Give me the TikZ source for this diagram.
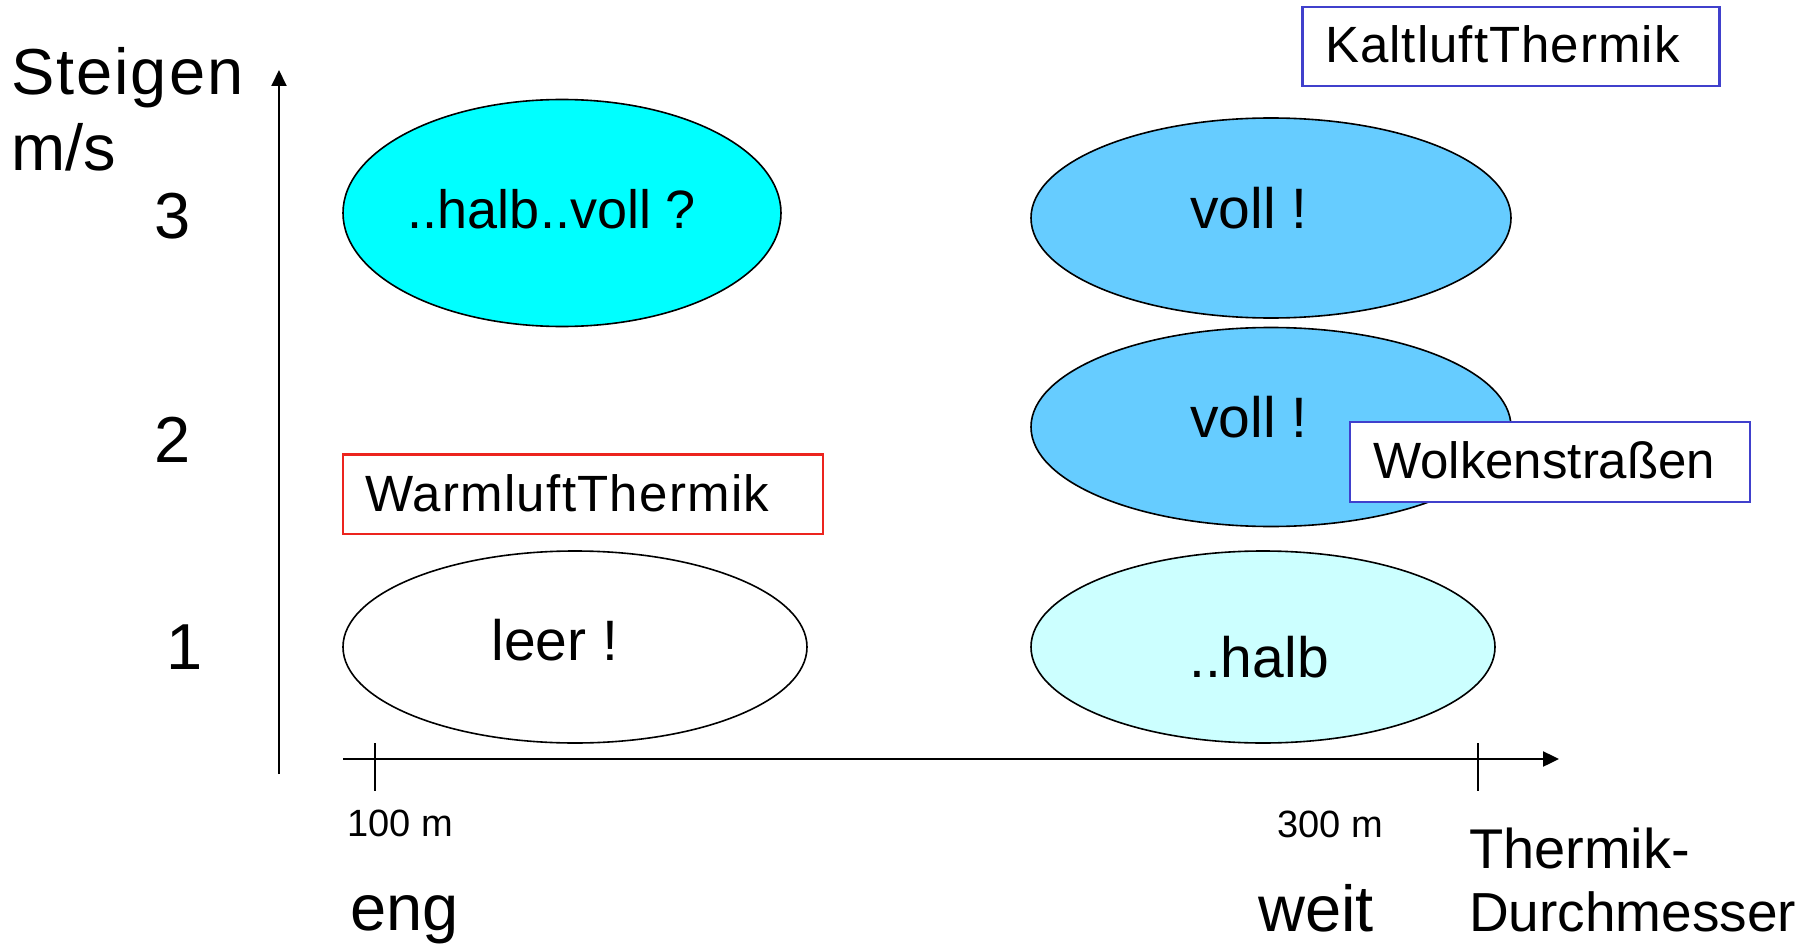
\documentclass[tikz,border=0pt]{standalone}
\usepackage{fontspec}
\setmainfont{Liberation Sans}
\usetikzlibrary{shapes.geometric,arrows.meta}
\definecolor{cyanA}{HTML}{00FFFF}
\definecolor{blueB}{HTML}{66CCFF}
\definecolor{paleE}{HTML}{CCFFFF}
\definecolor{boxblue}{RGB}{64,64,204}
\definecolor{boxred}{RGB}{236,36,30}
\newcommand{\fsz}[1]{\fontsize{#1}{#1}\selectfont}
\begin{document}
\begin{tikzpicture}[x=1pt,y=-1pt,
  blob/.style={ellipse,draw=black,line width=1.6pt,inner sep=0pt},
  labelbox/.style={draw,line width=2.2pt,fill=white,inner sep=0pt},
  axisline/.style={line width=2.4pt,-{Triangle[length=16pt,width=15pt]}},
  tickline/.style={line width=1.3pt},
  big/.style={inner sep=0pt,font=\fsz{65}},
  mid/.style={inner sep=0pt,font=\fsz{57}},
  small/.style={inner sep=0pt,font=\fsz{51}},
  tiny/.style={inner sep=0pt,font=\fsz{38}}]
\useasboundingbox (0,0) rectangle (1816,947);
% axes
\coordinate (yb) at (279,774);
\coordinate (yt) at (279,70);
\coordinate (xl) at (343,759);
\coordinate (xr) at (1559,759);
\draw[axisline,line width=2pt] (yb) -- (yt);
\draw[axisline] (xl) -- (xr);
\coordinate (t1a) at (375,743); \coordinate (t1b) at (375,791);
\coordinate (t2a) at (1478,743); \coordinate (t2b) at (1478,791);
\draw[tickline] (t1a) -- (t1b);
\draw[tickline] (t2a) -- (t2b);
% ellipses
\node[blob,fill=cyanA,minimum width=438pt,minimum height=227pt] (eA) at (562,213) {};
\node[blob,fill=blueB,minimum width=480pt,minimum height=200pt] (eB) at (1271,218) {};
\node[blob,fill=blueB,minimum width=480pt,minimum height=199pt] (eC) at (1271,427) {};
\node[blob,fill=white,minimum width=464pt,minimum height=192pt] (eD) at (575,647) {};
\node[blob,fill=paleE,minimum width=464pt,minimum height=192pt] (eE) at (1263,647) {};
% boxes
\node[labelbox,draw=boxblue,minimum width=417pt,minimum height=79pt] (bK) at (1511,46.4) {};
\node[labelbox,draw=boxblue,minimum width=400pt,minimum height=79.5pt] (bW) at (1550.3,462) {};
\node[labelbox,draw=boxred,minimum width=480pt,minimum height=79.5pt] (bR) at (583,494.2) {};
% texts
\node[small,anchor=base west] (tK) at (1325,63) {\addfontfeatures{LetterSpace=2}KaltluftThermik};
\node[small,anchor=base west] (tW) at (1373,478) {Wolkenstraßen};
\node[small,anchor=base west] (tR) at (365,511.5) {\addfontfeatures{LetterSpace=2.5}WarmluftThermik};
\node[inner sep=0pt,font=\fsz{54},anchor=base] (tA) at (552,229) {..halb..voll ?};
\node[mid,anchor=base] (tB) at (1249,229) {voll !};
\node[mid,anchor=base] (tC) at (1249,437) {voll !};
\node[mid,anchor=base] (tD) at (555,660) {leer !};
\node[mid,anchor=base] (tE) at (1259,677) {..halb};
\node[big,anchor=base west] (st) at (11,95) {\addfontfeatures{LetterSpace=3}Steigen};
\node[big,anchor=base west] (ms) at (11,171) {m/s};
\node[big,anchor=base] (n3) at (173,238) {3};
\node[big,anchor=base] (n2) at (173,462) {2};
\node[big,anchor=base] (n1) at (185,669) {1};
\node[tiny,anchor=base west] (m1) at (347,836) {100 m};
\node[tiny,anchor=base west] (m3) at (1277,837) {300 m};
\node[big,anchor=base west] (eng) at (350,930) {eng};
\node[big,anchor=base west] (weit) at (1258,931) {weit};
\node[inner sep=0pt,font=\fsz{56},anchor=base west] (th) at (1469,868) {Thermik-};
\node[inner sep=0pt,font=\fsz{55},anchor=base west] (dm) at (1469,931) {Durchmesser};
\end{tikzpicture}
\end{document}
